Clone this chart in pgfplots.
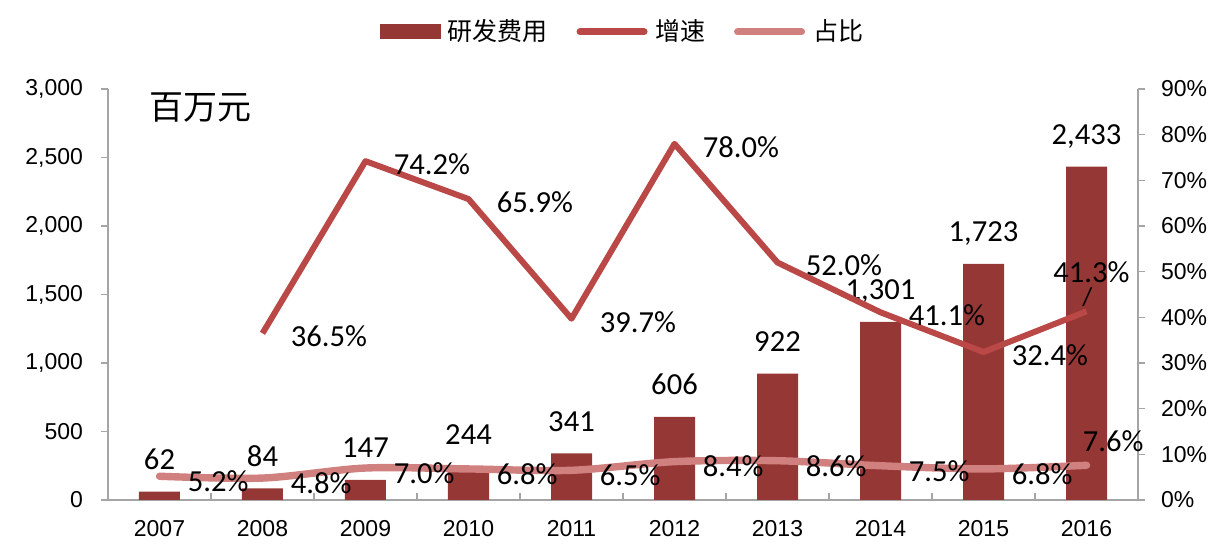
\documentclass[border=0pt]{standalone}
\usepackage{pgfplots}
\pgfplotsset{compat=1.18}
\usepackage{fontspec}
\setmainfont{Liberation Sans}
\newfontfamily\calibri{Carlito}
\newfontfamily\cjk{Noto Sans CJK SC}
\definecolor{barc}{RGB}{149,55,53}
\definecolor{growc}{RGB}{185,72,70}
\definecolor{sharec}{RGB}{208,128,126}
\definecolor{axisgray}{RGB}{165,165,165}
\begin{document}
\begin{tikzpicture}
\useasboundingbox (-54pt,-25.5pt) rectangle (559.5pt,250pt);
\begin{axis}[
  at={(0,0)}, anchor=south west,
  width=515pt, height=205.5pt, scale only axis,
  xmin=-0.5, xmax=9.5, ymin=0, ymax=3000,
  axis x line*=bottom, axis y line*=left,
  axis line style={draw=axisgray, line width=0.8pt},
  xtick={-0.5,0.5,...,9.5}, x tick label as interval,
  xticklabels={2007,2008,2009,2010,2011,2012,2013,2014,2015,2016},
  tick align=inside, major tick length=3.5pt,
  xtick style={draw=axisgray, line width=0.8pt},
  ytick={0,500,...,3000},
  ytick style={draw=axisgray, line width=0.8pt, xshift=-3.5pt},
  /pgf/number format/assume math mode=true,
  /pgf/number format/1000 sep={,},
  xticklabel style={font=\fontsize{11.5}{13}\selectfont, yshift=-6.5pt},
  yticklabel style={font=\fontsize{11.5}{13}\selectfont, xshift=-9pt},
]
\addplot[ybar, bar width=20.5pt, fill=barc, draw=none,
  nodes near coords={\pgfmathprintnumber[fixed,precision=0,1000 sep={,}]{\pgfplotspointmeta}},
  every node near coord/.style={font=\calibri\fontsize{15.3}{17}\selectfont, anchor=base, yshift=11pt, inner sep=0pt, text=black}]
  coordinates {(0,62) (1,84) (2,147) (3,244) (4,341) (5,606) (6,922) (7,1301) (8,1723) (9,2433)};
\node[anchor=west, inner sep=0pt, font=\cjk\fontsize{17}{19}\selectfont] at (rel axis cs:0.04,0.956) {百万元};
\end{axis}
\begin{axis}[
  at={(0,0)}, anchor=south west,
  width=515pt, height=205.5pt, scale only axis,
  xmin=-0.5, xmax=9.5, ymin=0, ymax=90,
  axis x line=none, axis y line*=right,
  axis line style={draw=axisgray, line width=0.8pt},
  ytick={0,10,...,90},
  yticklabel={\pgfmathprintnumber{\tick}\%},
  tick align=outside, major tick length=3.5pt,
  ytick style={draw=axisgray, line width=0.8pt},
  /pgf/number format/assume math mode=true,
  yticklabel style={font=\fontsize{11.5}{13}\selectfont, xshift=4.5pt},
  legend style={at={(0.5,1.139)}, anchor=center, draw=none, fill=none,
    legend columns=3, font=\cjk\fontsize{12.5}{14}\selectfont,
    /tikz/every even column/.append style={column sep=13pt},
    nodes={inner sep=1.5pt}},
  legend cell align=left,
]
\addlegendimage{legend image code/.code={\fill[barc] (0pt,-3.5pt) rectangle (30pt,3.5pt); \path (32pt,0pt);}}
\addlegendentry{研发费用}
\addplot[color=growc, line width=3pt, line join=round, mark=none,
  legend image code/.code={\draw[growc, line width=3.5pt, line cap=round] (0pt,0pt) -- (32pt,0pt); \path (34.5pt,0pt);}]
  coordinates {(1,36.5) (2,74.2) (3,65.9) (4,39.7) (5,78.0) (6,52.0) (7,41.1) (8,32.4) (9,41.3)};
\addlegendentry{增速}
\addplot[color=sharec, line width=3.7pt, smooth, line cap=round, mark=none,
  legend image code/.code={\draw[sharec, line width=3.5pt, line cap=round] (0pt,0pt) -- (32pt,0pt); \path (34.5pt,0pt);}]
  coordinates {(0,5.2) (1,4.8) (2,7.0) (3,6.8) (4,6.5) (5,8.4) (6,8.6) (7,7.5) (8,6.8) (9,7.6)};
\addlegendentry{占比}
% growth labels
\addplot[forget plot, draw=none, mark=none,
  nodes near coords={\pgfmathprintnumber[fixed,zerofill,precision=1]{\pgfplotspointmeta}\%},
  every node near coord/.style={font=\calibri\fontsize{15.3}{17}\selectfont, anchor=west, inner sep=0pt, xshift=14pt, yshift=-1.5pt, text=black}]
  coordinates {(1,36.5) (2,74.2) (3,65.9) (4,39.7) (5,78.0) (6,52.0) (7,41.1) (8,32.4)};
\addplot[forget plot, draw=none, mark=none,
  nodes near coords={\pgfmathprintnumber[fixed,zerofill,precision=1]{\pgfplotspointmeta}\%},
  every node near coord/.style={font=\calibri\fontsize{15.3}{17}\selectfont, anchor=center, inner sep=0pt, xshift=2.5pt, yshift=19.5pt, text=black}]
  coordinates {(9,41.3)};
\addplot[forget plot, draw=none, mark=none,
  nodes near coords={/},
  every node near coord/.style={font=\calibri\fontsize{13}{15}\selectfont, anchor=center, inner sep=0pt, xshift=0.5pt, yshift=7pt, text=black}]
  coordinates {(9,41.3)};
% share labels
\addplot[forget plot, draw=none, mark=none,
  nodes near coords={\pgfmathprintnumber[fixed,zerofill,precision=1]{\pgfplotspointmeta}\%},
  every node near coord/.style={font=\calibri\fontsize{15.3}{17}\selectfont, anchor=west, inner sep=0pt, xshift=14pt, yshift=-2.5pt, text=black}]
  coordinates {(0,5.2) (1,4.8) (2,7.0) (3,6.8) (4,6.5) (5,8.4) (6,8.6) (7,7.5) (8,6.8)};
\addplot[forget plot, draw=none, mark=none,
  nodes near coords={\pgfmathprintnumber[fixed,zerofill,precision=1]{\pgfplotspointmeta}\%},
  every node near coord/.style={font=\calibri\fontsize{15.3}{17}\selectfont, anchor=west, inner sep=0pt, xshift=-2pt, yshift=12pt, text=black}]
  coordinates {(9,7.6)};
\end{axis}
\end{tikzpicture}
\end{document}
